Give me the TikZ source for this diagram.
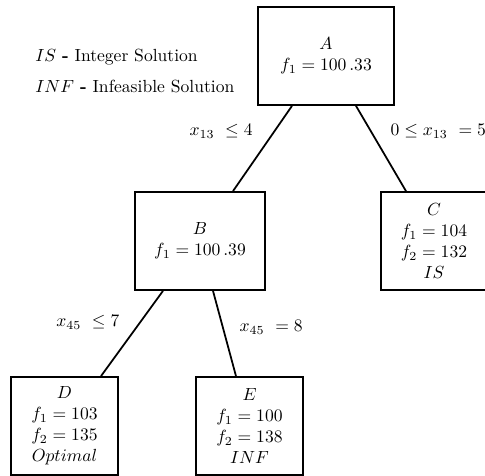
\documentclass[tikz,border=0pt]{standalone}
\usepackage{amsmath,amssymb}
\usetikzlibrary{positioning}
\begin{document}
\begin{tikzpicture}[x=0.02cm,y=-0.02cm,
                    nodo/.style={draw,line width=1pt,align=center,minimum height=1.96cm,inner sep=2pt},
                    rama/.style={line width=1pt},
                    leyenda/.style={anchor=west,inner sep=0pt}]
  \useasboundingbox (0,0) rectangle (485,476);
  \node[leyenda] (leyis) at (35,57) {$IS$ \textbf{-} Integer Solution};
  \node[leyenda] (leyinf) at (35,87) {$INF$ \textbf{-} Infeasible Solution};
  \node[nodo,minimum width=2.72cm] (a) at (326,56) {$A$\\$f_1 = 100\,.33$};
  \node[nodo,minimum width=2.6cm] (b) at (200,241) {$B$\\$f_1 = 100\,.39$};
  \node[nodo,minimum width=2.12cm] (c) at (434,241) {$C$\\$f_1 = 104$\\$f_2 = 132$\\$IS$};
  \node[nodo,minimum width=2.14cm] (d) at (64.5,426) {$D$\\$f_1 = 103$\\$f_2 = 135$\\$Optimal$};
  \node[nodo,minimum width=2.14cm] (e) at (249.5,426) {$E$\\$f_1 = 100$\\$f_2 = 138$\\$INF$};
  \draw[rama] ([xshift=-0.68cm]a.south) -- node[pos=0.3,left=3mm]{$x_{13}\ \leq 4$} ([xshift=0.66cm]b.north);
  \draw[rama] ([xshift=0.6cm]a.south) -- node[pos=0.3,right=2.6mm]{$0 \leq x_{13}\ = 5$} ([xshift=-0.56cm]c.north);
  \draw[rama] ([xshift=-0.74cm]b.south) -- node[pos=0.37,left=2.8mm]{$x_{45}\ \leq 7$} ([xshift=0.73cm]d.north);
  \draw[rama] ([xshift=0.26cm]b.south) -- node[pos=0.43,right=2mm]{$x_{45}\ = 8$} ([xshift=-0.27cm]e.north);
\end{tikzpicture}
\end{document}
